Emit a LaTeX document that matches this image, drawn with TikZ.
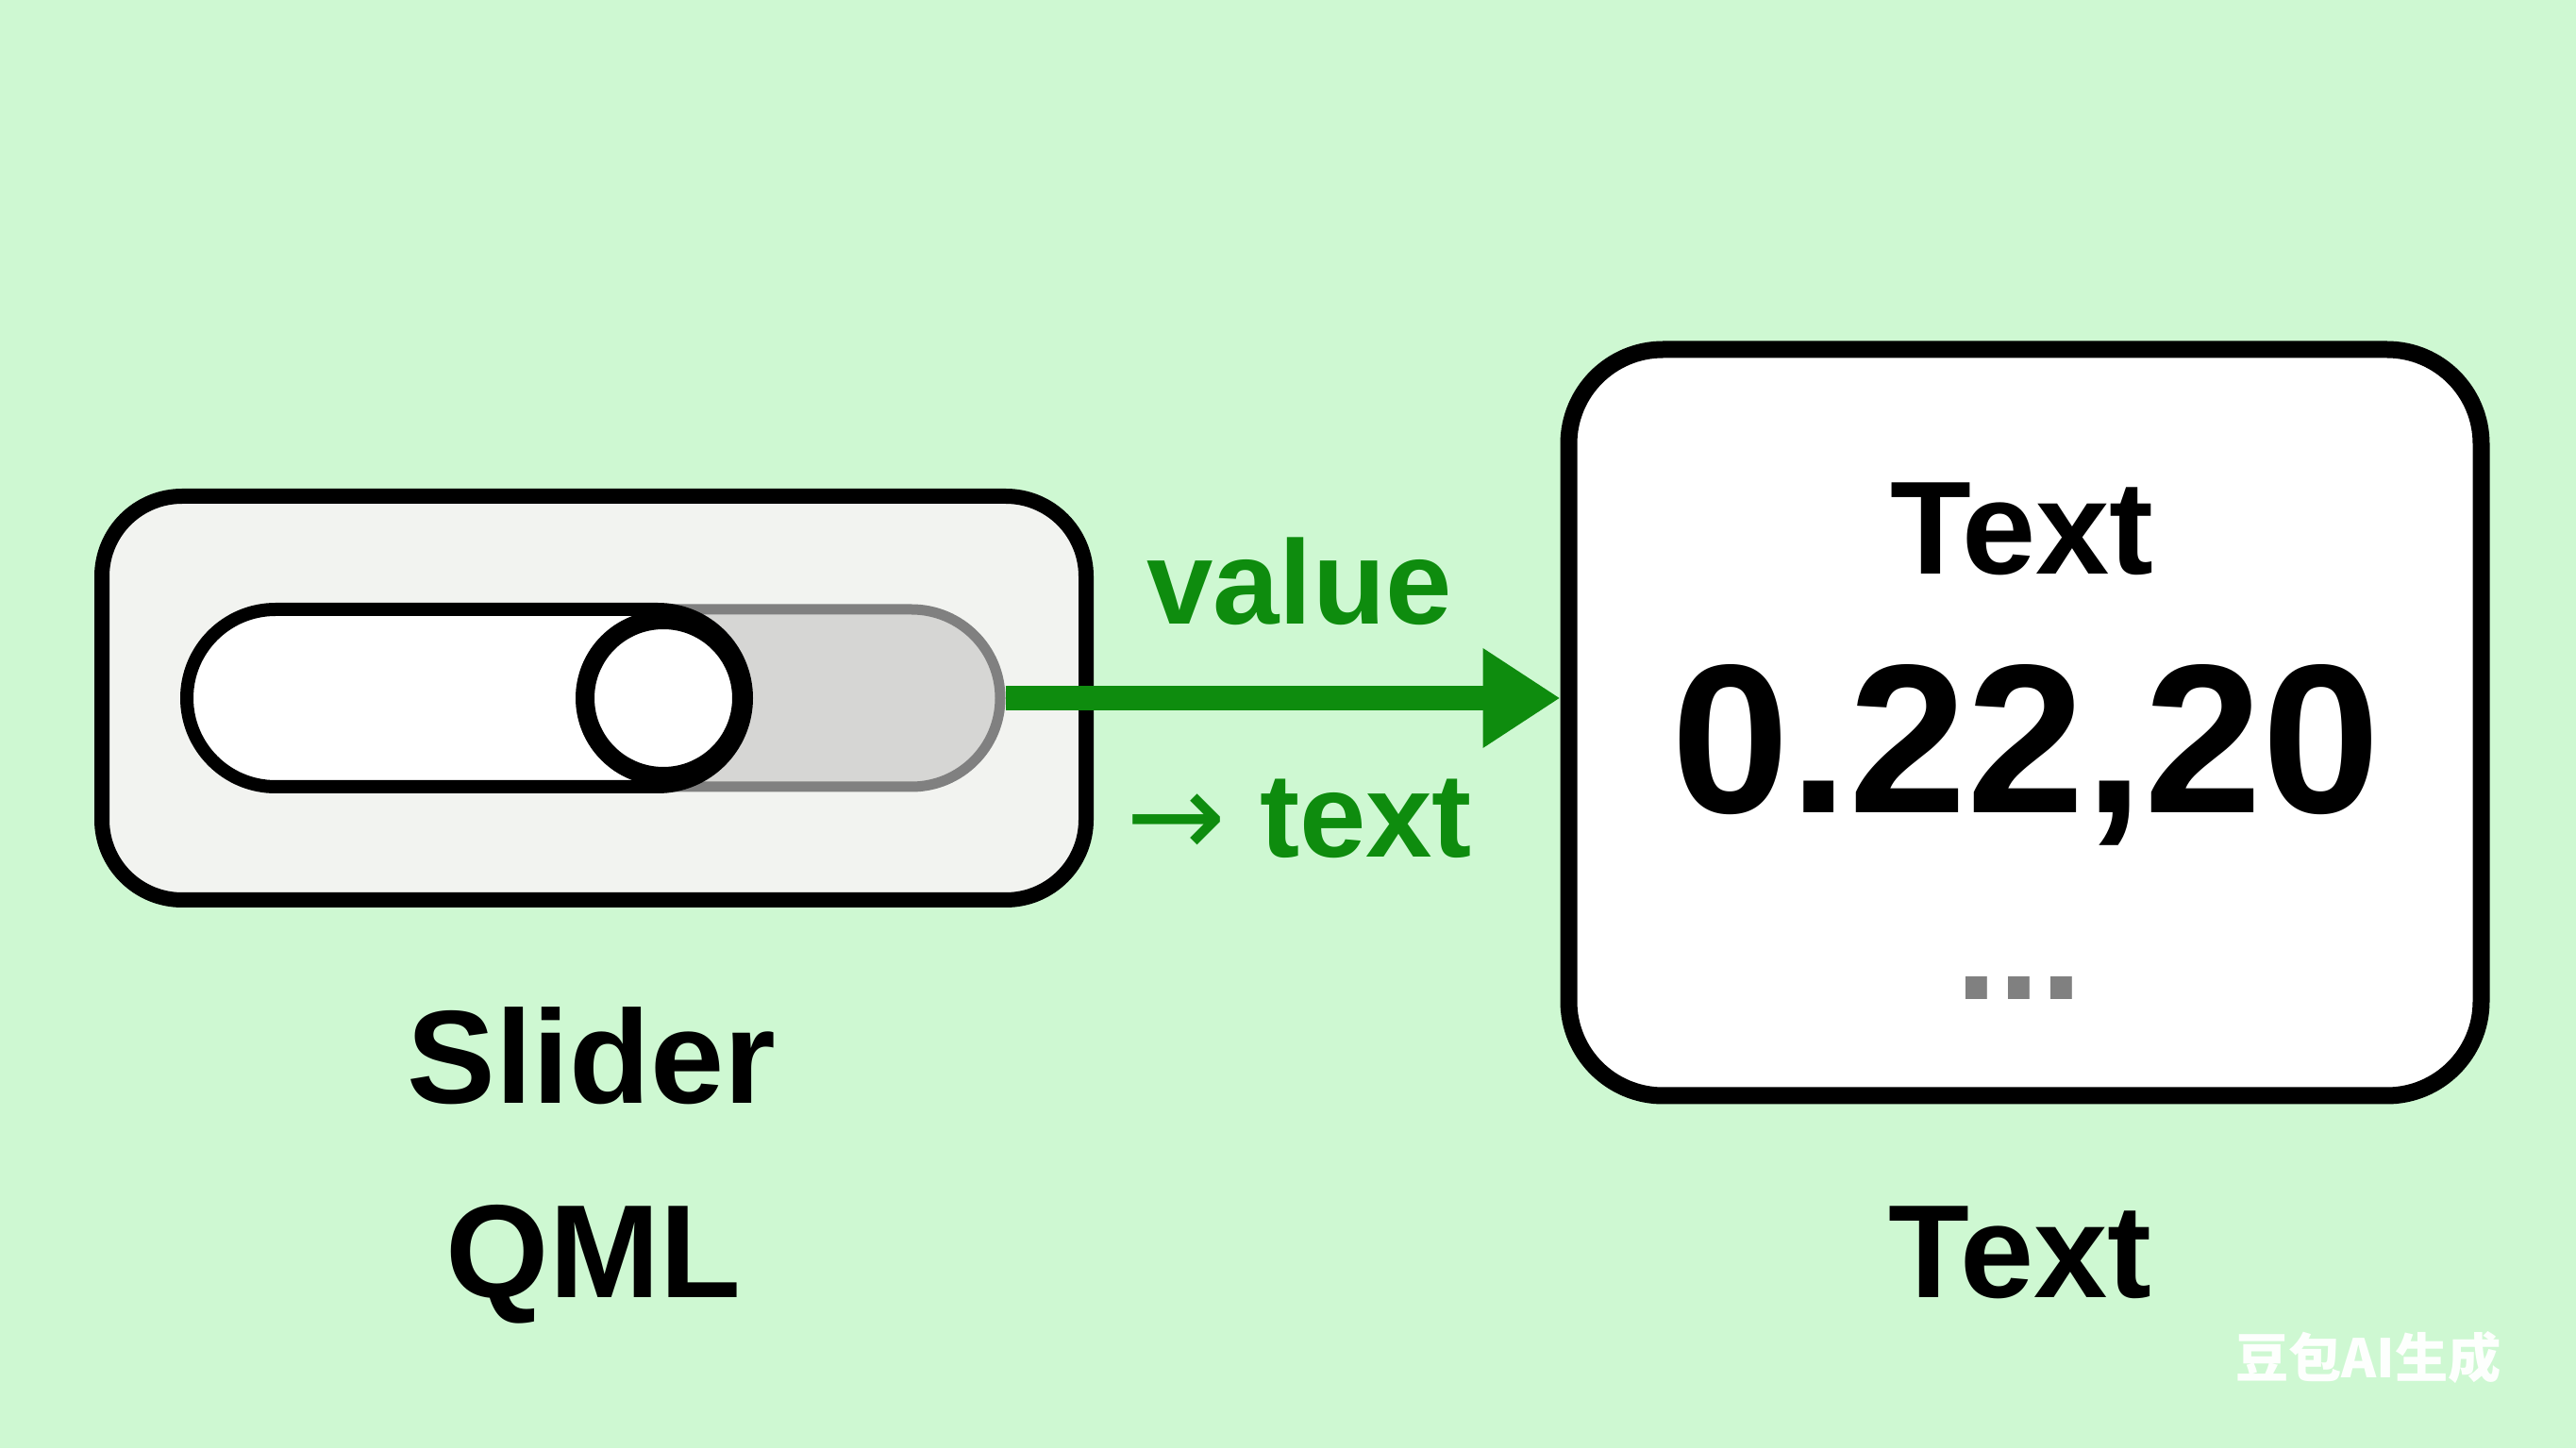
\documentclass[tikz,border=0pt]{standalone}
\usepackage{fontspec}
\setmainfont{Liberation Sans}
\newfontfamily\arrowfont{DejaVu Sans}
\newfontfamily\cjk{Noto Sans CJK SC}
\usetikzlibrary{arrows.meta}

\definecolor{bgmint}{RGB}{206,248,210}
\definecolor{framefill}{RGB}{242,243,240}
\definecolor{trackgray}{RGB}{214,214,212}
\definecolor{trackline}{RGB}{128,128,128}
\definecolor{flowgreen}{RGB}{14,140,14}

\begin{document}
\begin{tikzpicture}[line cap=round, line join=round,
    frame/.style={draw=black, line width=0.16cm, fill=framefill, rounded corners=0.85cm,
      minimum width=10.43cm, minimum height=4.28cm, inner sep=0pt},
    label/.style={font=\bfseries\fontsize{40}{48}\selectfont, anchor=base, inner sep=0pt},
    flow/.style={font=\bfseries\fontsize{36}{43}\selectfont, text=flowgreen, anchor=base, inner sep=0pt}]

    \useasboundingbox (0,0) rectangle (27.3,15.35);
    \fill[bgmint] (0,0) rectangle (27.3,15.35);

    % slider
    \node[frame] (slider) at (6.295,7.95) {};
    \node[draw=trackline, line width=0.11cm, fill=trackgray, rounded corners=0.94cm,
      minimum width=8.63cm, minimum height=1.88cm, inner sep=0pt] (track) at (6.285,7.95) {};
    \node[draw=black, line width=0.14cm, fill=white, rounded corners=0.94cm,
      minimum width=5.93cm, minimum height=1.88cm, inner sep=0pt] (done) at (4.945,7.95) {};
    \node[draw=black, line width=0.2cm, fill=white, circle, minimum size=1.66cm, inner sep=0pt]
      (knob) at (7.03,7.95) {};

    % text element
    \node[frame, fill=white, rounded corners=1.0cm, line width=0.18cm,
      minimum width=9.67cm, minimum height=7.91cm] (textbox) at (21.46,7.69) {};

    \draw[flowgreen, line width=0.26cm, line cap=butt, -{Triangle[length=0.82cm, width=1.0cm]}]
      (track.east) -- (track.east -| textbox.west);

    \node[flow] (value) at (13.77,8.73) {value};
    \node[flow] (totext) at (13.77,6.26) {{\arrowfont\mdseries →} text};

    \node[label] (title) at (21.43,9.26) {Text};
    \node[label, font=\bfseries\fontsize{64}{76}\selectfont] (number) at (21.47,6.73) {0.22,20};
    \node[label, text=trackline, font=\bfseries\fontsize{46}{55}\selectfont] (more) at (21.40,4.75) {...};

    \node[label] (name1) at (6.27,3.65) {Slider};
    \node[label] (name2) at (6.29,1.60) {QML};
    \node[label] (name3) at (21.41,1.60) {Text};

    \node[text=white!96!bgmint, font=\cjk\bfseries\fontsize{16}{19}\selectfont] (mark) at (25.10,0.96) {豆包AI生成};
\end{tikzpicture}
\end{document}
